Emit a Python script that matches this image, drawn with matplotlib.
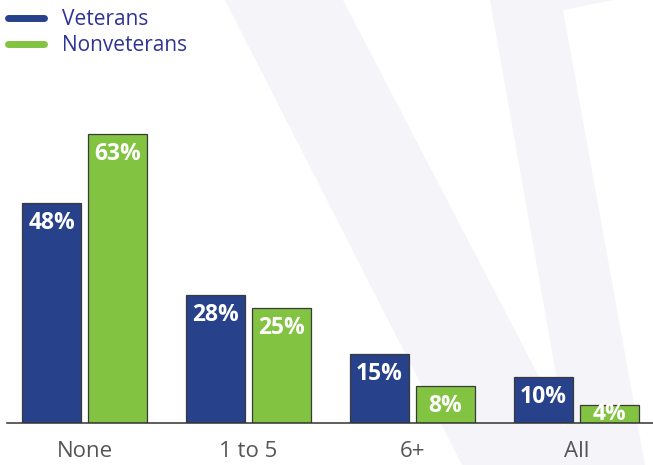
"""Veterans vs nonveterans: grouped bar chart with a faint V watermark"""

import matplotlib
matplotlib.use('Agg')
from matplotlib import pyplot as plt
from matplotlib.patches import Polygon
from matplotlib.lines import Line2D
import numpy as np

plt.rcParams['font.family'] = ['Open Sans', 'DejaVu Sans']

# data
categories = ['None', '1 to 5', '6+', 'All']
veterans = [48, 28, 15, 10]
nonveterans = [63, 25, 8, 4]

navy = '#27418a'
green = '#82c341'
edge = '#3a3a3a'
legend_blue = '#2f3396'
tick_grey = '#555555'
wash = '#f5f4f9'

W, H = 653, 465
fig = plt.figure(figsize=(W / 100, H / 100), dpi=100)

#watermark "V" strokes, given in pixels from the top-left corner
def px_poly(pts):
    return Polygon([(x / W, 1 - y / H) for x, y in pts], closed=True,
                   transform=fig.transFigure, facecolor=wash, edgecolor='none', zorder=-10)

fig.patches.append(px_poly([(225, 0), (343, 0), (585, 465), (462, 465)]))
fig.patches.append(px_poly([(490, 0), (613, 0), (563, 10), (645, 465), (572, 465)]))

#axes: baseline at y=423px, x from 7px to the right edge
ax = fig.add_axes([7 / W, 42 / H, (W - 7) / W, (H - 42) / H])
ax.set_facecolor('none')

x = np.arange(len(categories))
bw = 0.36
off = 0.201
bars_v = ax.bar(x - off, veterans, bw, color=navy, edgecolor=edge, linewidth=0.9, zorder=3)
bars_n = ax.bar(x + off, nonveterans, bw, color=green, edgecolor=edge, linewidth=0.9, zorder=3)

ax.set_xlim(-0.4726, 3.4665)
ax.set_ylim(0, 92.2)

#value labels inside the top of each bar
for bars, vals in [(bars_v, veterans), (bars_n, nonveterans)]:
    for b, v in zip(bars, vals):
        ax.text(b.get_x() + b.get_width() / 2, max(v - 4.4, 1.9), '%d%%' % v,
                ha='center', va='center', color='white', fontsize=16.5,
                fontweight='bold', zorder=4)

for s in ['top', 'right', 'left']:
    ax.spines[s].set_visible(False)
ax.spines['bottom'].set_color('#333333')
ax.spines['bottom'].set_linewidth(1.1)
ax.spines['bottom'].set_zorder(5)
ax.set_yticks([])
ax.set_xticks(x, categories)
ax.tick_params(axis='x', length=0, pad=13, labelsize=16, labelcolor=tick_grey)

handles = [Line2D([], [], color=navy, lw=5, solid_capstyle='round'),
           Line2D([], [], color=green, lw=5, solid_capstyle='round')]
leg = fig.legend(handles, ['Veterans', 'Nonveterans'], loc='upper left',
                 bbox_to_anchor=(8 / W, 1 - 9 / H), bbox_transform=fig.transFigure,
                 frameon=False, fontsize=15, handlelength=1.75, handletextpad=0.85,
                 labelspacing=0.25, borderpad=0, borderaxespad=0)
for t in leg.get_texts():
    t.set_color(legend_blue)

plt.savefig('out.png', dpi=100)
